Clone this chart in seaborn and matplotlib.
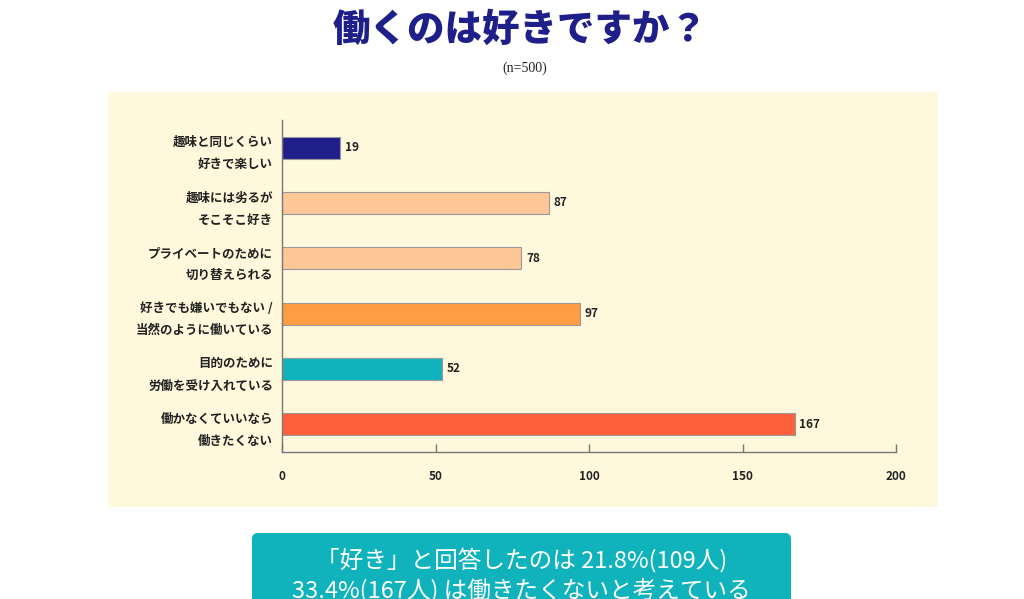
import matplotlib.pyplot as plt
import seaborn as sns
import pandas as pd
from matplotlib.patches import Rectangle, FancyBboxPatch

answers = [
    "趣味と同じくらい\n好きで楽しい",
    "趣味には劣るが\nそこそこ好き",
    "プライベートのために\n切り替えられる",
    "好きでも嫌いでもない /\n当然のように働いている",
    "目的のために\n労働を受け入れている",
    "働かなくていいなら\n働きたくない",
]
counts = [19, 87, 78, 97, 52, 167]
bar_colors = ["#1f1f8a", "#fdc896", "#fdc896", "#ff9d45", "#10b3bc", "#ff5f3b"]
x_ticks = [0, 50, 100, 150, 200]

title = "働くのは好きですか？"
subtitle = "(n=500)"
summary = "「好き」と回答したのは 21.8%(109人)\n33.4%(167人) は働きたくないと考えている"

sns.set_theme(style="ticks")
plt.rcParams['font.family'] = ['Noto Sans CJK JP', 'DejaVu Sans']

df = pd.DataFrame({"answer": answers, "count": counts})

fig = plt.figure(figsize=(10.24, 5.99), dpi=100)
fig.patch.set_facecolor("white")

# cream panel behind the chart
fig.patches.append(Rectangle((0.1055, 0.1536), 0.8105, 0.6928, transform=fig.transFigure,
                             facecolor="#fff8dc", edgecolor="none", zorder=-5))

ax = fig.add_axes([0.2754, 0.2454, 0.5996, 0.5543])
ax.set_facecolor("none")
ax.set_zorder(2)

sns.barplot(data=df, x="count", y="answer", hue="answer", palette=bar_colors,
            saturation=1, legend=False, orient="h", width=0.4,
            edgecolor="#999999", linewidth=0.8, ax=ax)

for i, v in enumerate(counts):
    ax.text(v + 1.5, i, str(v), va="center", ha="left", fontsize=8.5,
            fontweight="bold", color="#222222")

ax.set_xlim(0, 200)
ax.set_ylim(5.5, -0.5)
ax.set_xticks(x_ticks)
ax.set_xticklabels([str(t) for t in x_ticks], fontsize=8.5, fontweight="bold", color="#222222")
ax.tick_params(axis="x", direction="in", length=6, width=1, color="#777777", pad=13)
ax.tick_params(axis="y", length=0, pad=6.5)
for lbl in ax.get_yticklabels():
    lbl.set_fontsize(9)
    lbl.set_fontweight("bold")
    lbl.set_color("#222222")
    lbl.set_linespacing(1.9)
ax.set_xlabel("")
ax.set_ylabel("")
sns.despine(ax=ax)
for s in ["left", "bottom"]:
    ax.spines[s].set_color("#777777")
    ax.spines[s].set_linewidth(1)

fig.text(0.508, 0.95, title, ha="center", va="center", fontsize=27,
         fontweight="black", color="#1f1f8a")
fig.text(0.512, 0.886, subtitle, ha="center", va="center", fontsize=10,
         family="Liberation Serif", color="#222222")

# teal summary box at the bottom
fig.patches.append(FancyBboxPatch((2.57, -0.3), 5.29, 0.91,
                                  boxstyle="round,pad=0.05,rounding_size=0.06",
                                  transform=fig.dpi_scale_trans,
                                  facecolor="#10b3bc", edgecolor="none", zorder=-4))
fig.text(0.509, 0.04, summary, ha="center", va="center", fontsize=17,
         color="white", linespacing=1.33)

plt.savefig("out.png", dpi=100)
